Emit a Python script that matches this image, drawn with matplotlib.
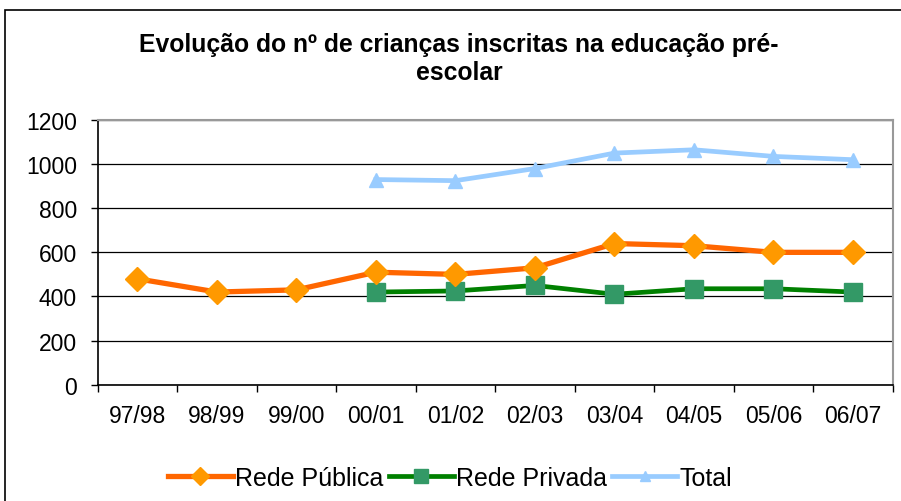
import matplotlib
matplotlib.use("Agg")
import matplotlib.pyplot as plt
from matplotlib.patches import Rectangle
from matplotlib.lines import Line2D

categories = ["97/98", "98/99", "99/00", "00/01", "01/02", "02/03", "03/04", "04/05", "05/06", "06/07"]
rede_publica = [480, 420, 430, 510, 500, 530, 640, 630, 600, 600]
rede_privada = [None, None, None, 420, 425, 450, 410, 435, 435, 420]
total = [None, None, None, 930, 925, 980, 1050, 1065, 1035, 1020]
yticks = [0, 200, 400, 600, 800, 1000, 1200]

plt.rcParams['font.family'] = ['Liberation Sans', 'DejaVu Sans']

W, H = 901, 502
fig = plt.figure(figsize=(W/100, H/100), dpi=100)

# outer chart border
fig.patches.append(Rectangle((5/W, -0.1), 1.0, (H-11)/H + 0.1, transform=fig.transFigure,
                             fill=False, edgecolor='black', linewidth=1.2, zorder=0))

ax = fig.add_axes([97.7/W, (H-385.7)/H, (892.7-97.7)/W, (385.7-121)/H])

def series(vals):
    xs = [i + 0.5 for i, v in enumerate(vals) if v is not None]
    ys = [v for v in vals if v is not None]
    return xs, ys

x, y = series(rede_publica)
ax.plot(x, y, color='#FF6600', linewidth=3.8, marker='D', markersize=12.5,
        markerfacecolor='#FF9900', markeredgecolor='#FF9900', zorder=4, label='Rede Pública')
x, y = series(rede_privada)
ax.plot(x, y, color='#008000', linewidth=3.4, marker='s', markersize=13.5,
        markerfacecolor='#339966', markeredgecolor='#339966', zorder=3, label='Rede Privada')
x, y = series(total)
ax.plot(x, y, color='#99CCFF', linewidth=3.4, marker='^', markersize=10,
        markerfacecolor='#99CCFF', markeredgecolor='#99CCFF', zorder=3, label='Total')

fs = 16.5
ax.set_xlim(0, len(categories))
ax.set_ylim(0, 1200)
ax.set_yticks(yticks)
ax.set_yticklabels([str(v) for v in yticks], fontsize=fs)
ax.set_xticks(range(len(categories) + 1))
ax.set_xticklabels([])
ax.set_xticks([i + 0.5 for i in range(len(categories))], minor=True)
ax.set_xticklabels(categories, minor=True, fontsize=fs)
ax.tick_params(axis='x', which='minor', length=0, pad=14)
ax.tick_params(axis='x', which='major', length=5, width=1, direction='out')
ax.tick_params(axis='y', length=5, width=1, direction='out', pad=10)

ax.yaxis.grid(True, color='black', linewidth=0.9)
ax.set_axisbelow(True)
for s in ['top', 'right']:
    ax.spines[s].set_color('#999999')
    ax.spines[s].set_linewidth(1.5)
for s in ['left', 'bottom']:
    ax.spines[s].set_color('black')
    ax.spines[s].set_linewidth(1.2)

fig.text(459/W, 1 - 45/H, "Evolução do nº de crianças inscritas na educação pré-",
         ha='center', va='center', fontsize=17.8, fontweight='bold')
fig.text(459/W, 1 - 73/H, "escolar", ha='center', va='center', fontsize=17.8, fontweight='bold')

handles = [
    Line2D([], [], color='#FF6600', linewidth=3.8, marker='D', markersize=9,
           markerfacecolor='#FF9900', markeredgecolor='#FF9900'),
    Line2D([], [], color='#008000', linewidth=3.4, marker='s', markersize=10,
           markerfacecolor='#339966', markeredgecolor='#339966'),
    Line2D([], [], color='#99CCFF', linewidth=3.4, marker='^', markersize=7,
           markerfacecolor='#99CCFF', markeredgecolor='#99CCFF'),
]
fig.legend(handles, ['Rede Pública', 'Rede Privada', 'Total'], loc='center',
           bbox_to_anchor=(450/W, 1 - 479/H), ncol=3, frameon=False, fontsize=18,
           handlelength=2.6, handletextpad=0.1, columnspacing=0.2)

fig.savefig('out.png', dpi=100)
